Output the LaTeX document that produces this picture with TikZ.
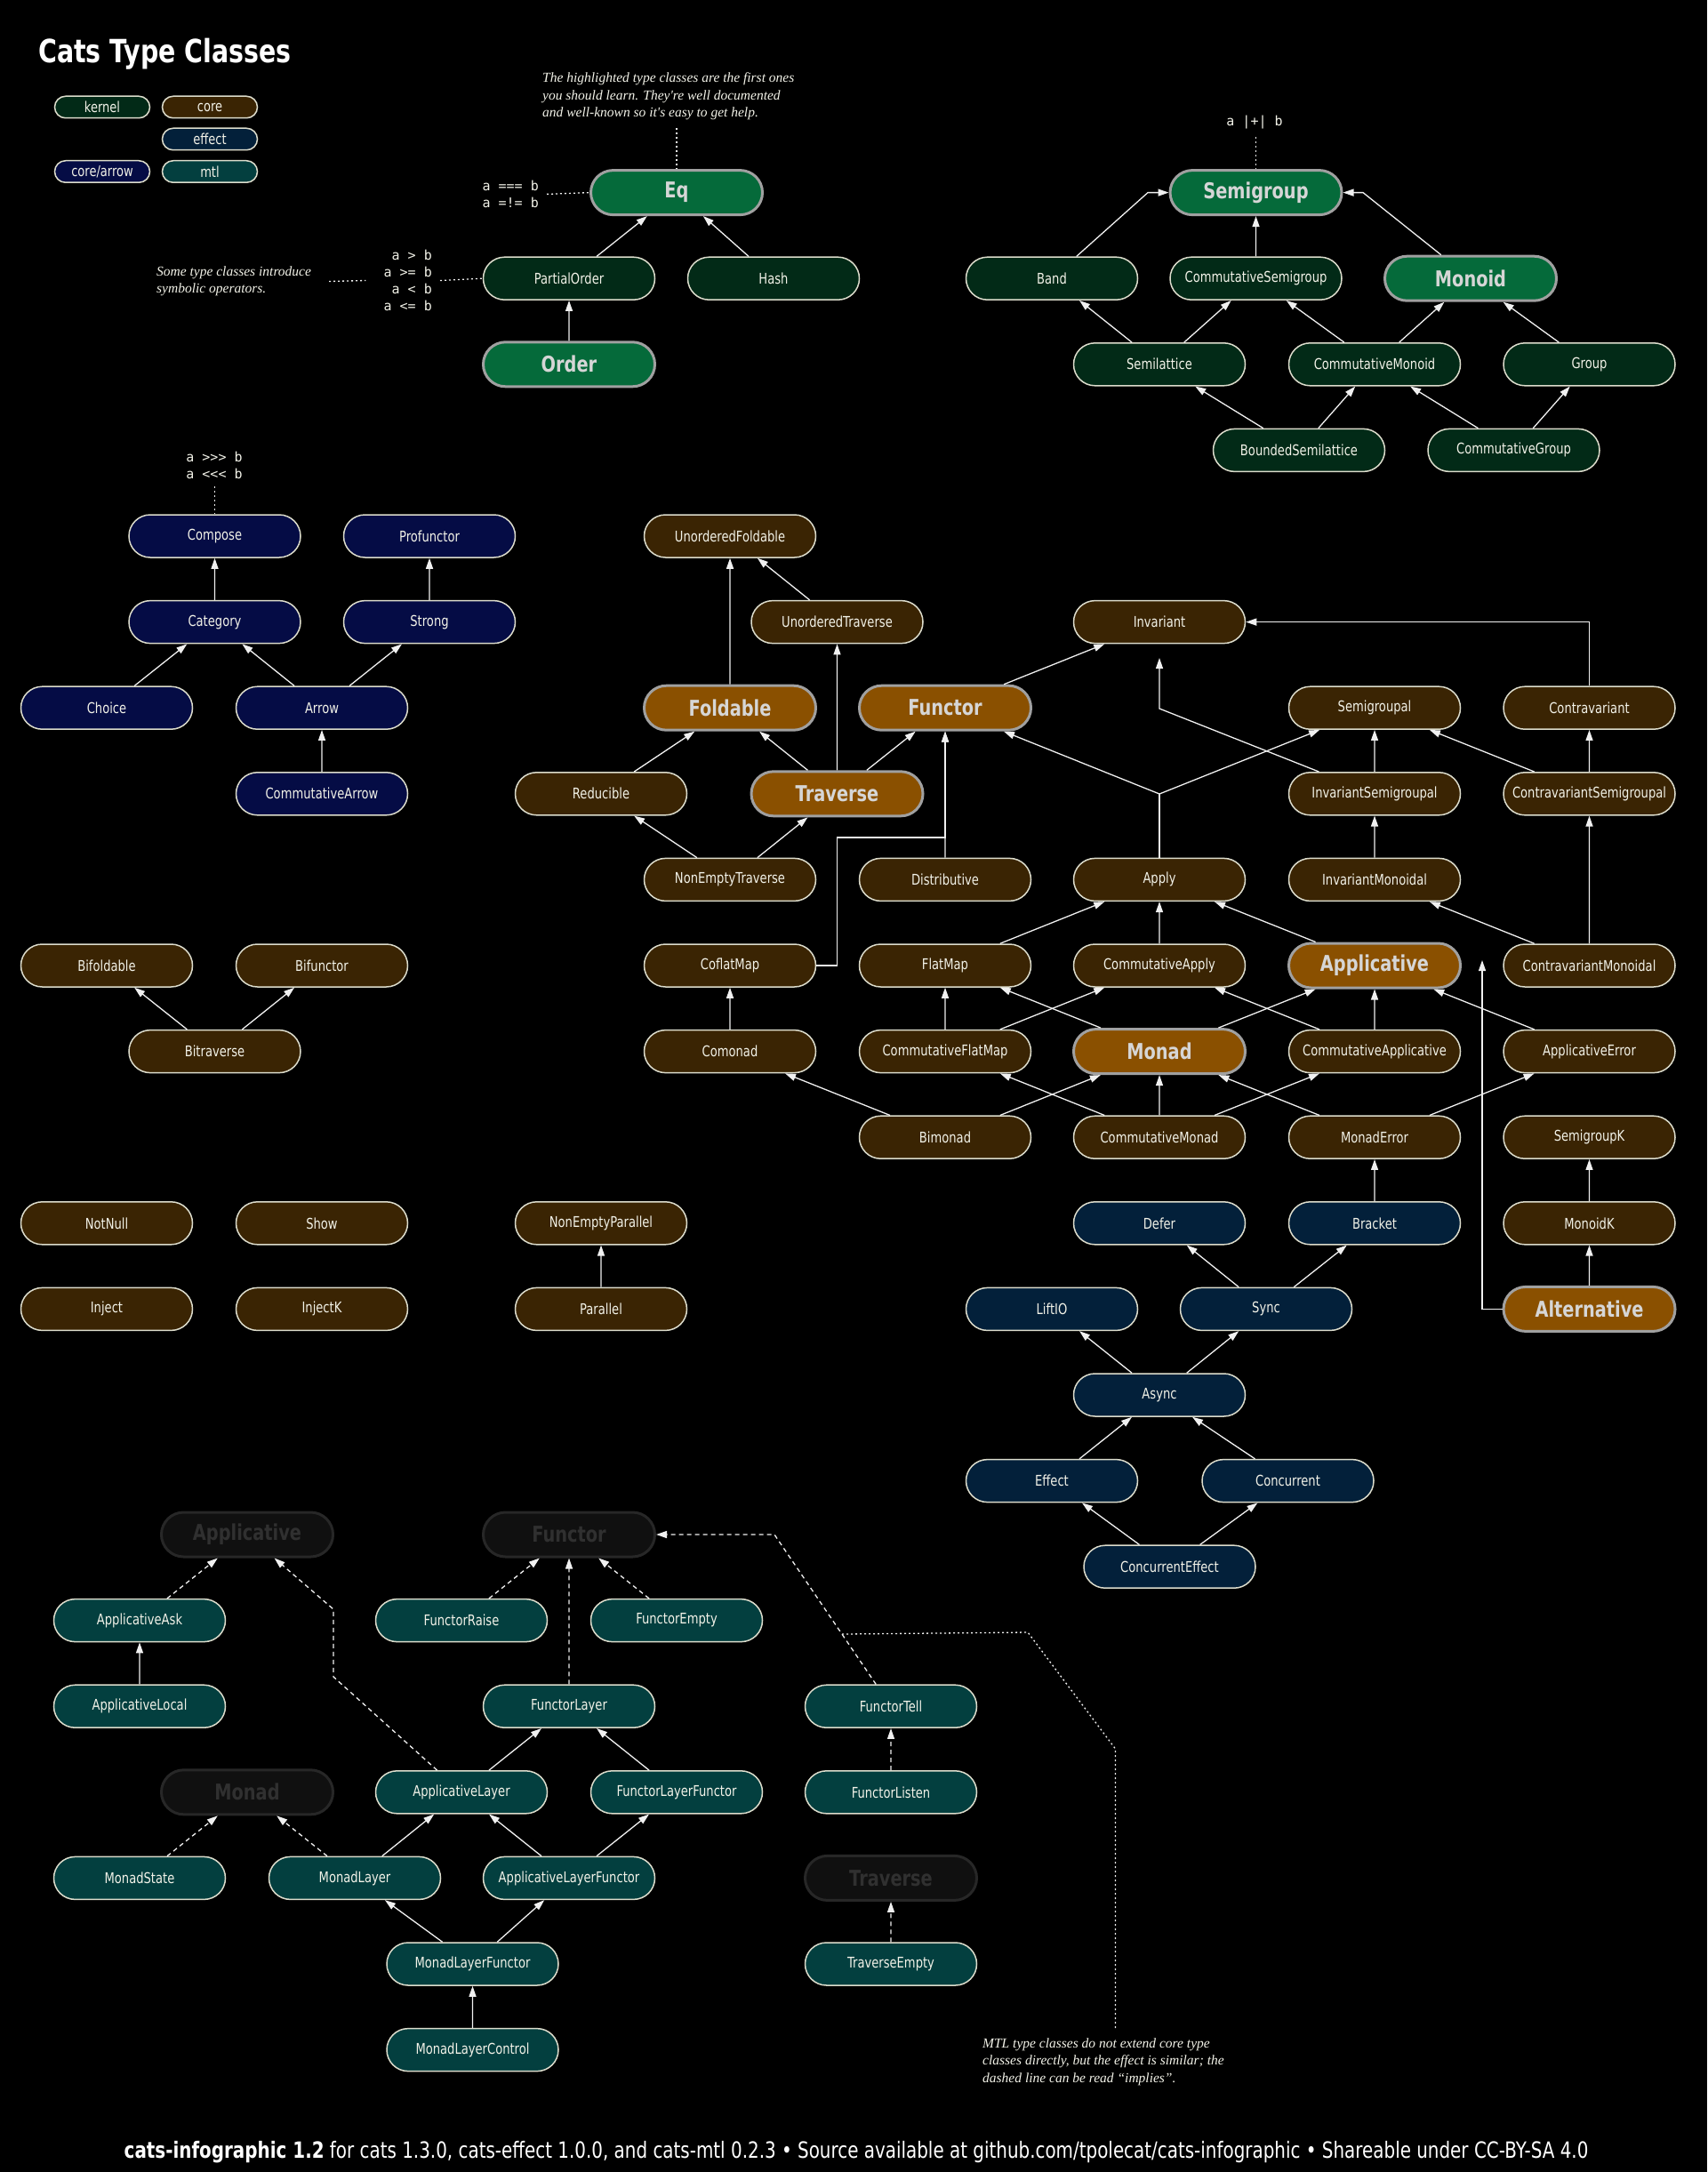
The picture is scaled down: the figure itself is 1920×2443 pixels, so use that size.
\documentclass[tikz,border=0pt]{standalone}
\usepackage{fontspec}
\setmainfont[FakeStretch=0.79]{DejaVu Sans}
\newfontfamily\notefont{Liberation Serif}
\newfontfamily\opfont{DejaVu Sans Mono}
\usetikzlibrary{shapes.misc,arrows.meta}
\definecolor{kernelfill}{HTML}{022A17}
\definecolor{kernelhi}{HTML}{056A3A}
\definecolor{corefill}{HTML}{3A2403}
\definecolor{corehi}{HTML}{8A5000}
\definecolor{effectfill}{HTML}{03203A}
\definecolor{arrowfill}{HTML}{050C45}
\definecolor{mtlfill}{HTML}{033F3F}
\definecolor{ghostfill}{HTML}{101010}
\definecolor{ghostline}{HTML}{272727}
\definecolor{ghosttext}{HTML}{303030}
\definecolor{nodeline}{HTML}{DCDCCC}
\definecolor{nodetext}{HTML}{F2F2E8}
\definecolor{hiline}{HTML}{A0A0A0}
\definecolor{hitext}{HTML}{D6D6D6}
\definecolor{edgecol}{HTML}{F0F0F0}
\begin{document}
\begin{tikzpicture}[x=1pt,y=-1pt,
  tc/.style={rounded rectangle, minimum width=193pt, minimum height=48pt, inner sep=0pt,
    line width=1.5pt, draw=nodeline, text=nodetext, font=\fontsize{16.6}{20}\selectfont},
  kn/.style={tc, fill=kernelfill},
  co/.style={tc, fill=corefill},
  ef/.style={tc, fill=effectfill},
  ar/.style={tc, fill=arrowfill},
  mt/.style={tc, fill=mtlfill},
  hik/.style={tc, fill=kernelhi, draw=hiline, line width=3pt, text=hitext, minimum height=50pt,
    font=\bfseries\fontsize{24.5}{28}\selectfont},
  hic/.style={hik, fill=corehi},
  ghost/.style={hik, fill=ghostfill, draw=ghostline, text=ghosttext},
  lg/.style={rounded rectangle, minimum width=107pt, minimum height=24.5pt, inner sep=0pt,
    line width=1.5pt, draw=nodeline, text=nodetext, font=\fontsize{16.5}{18}\selectfont},
  edge/.style={draw=edgecol, line width=1.3pt, -{Triangle[length=12pt,width=8pt]}},
  impl/.style={edge, dash pattern=on 5pt off 4pt},
  dots/.style={draw=edgecol, line width=1.3pt, dash pattern=on 2pt off 3pt},
  note/.style={inner sep=0pt, text=nodetext, align=left, font=\notefont\itshape\fontsize{15.5}{19.5}\selectfont},
  ops/.style={inner sep=0pt, text=nodetext, font=\opfont\fontsize{15}{19}\selectfont}
]
\fill[black] (0,0) rectangle (1920,2443);
\useasboundingbox (0,0) rectangle (1920,2443);

% ---------- title and legend ----------
\node[anchor=west, inner sep=0pt, text=white, font=\bfseries\fontsize{36}{40}\selectfont] (title) at (43,61) {Cats Type Classes};
\node[lg, fill=kernelfill] (lkernel) at (115,120.5) {kernel};
\node[lg, fill=corefill] (lcore) at (236,120.5) {core};
\node[lg, fill=effectfill] (leffect) at (236,156.5) {effect};
\node[lg, fill=arrowfill] (larrow) at (115,193) {core/arrow};
\node[lg, fill=mtlfill] (lmtl) at (236,193) {mtl};

% ---------- kernel ----------
\node[hik] (Eq) at (761,216.6) {Eq};
\node[kn] (PartialOrder) at (640,313.2) {PartialOrder};
\node[kn] (Hash) at (870,313.2) {Hash};
\node[hik] (Order) at (640,409.8) {Order};
\node[hik] (Semigroup) at (1412.5,216.6) {Semigroup};
\node[kn] (Band) at (1183,313.2) {Band};
\node[kn] (CommutativeSemigroup) at (1412.5,313.2) {CommutativeSemigroup};
\node[hik] (Monoid) at (1654,313.2) {Monoid};
\node[kn] (Semilattice) at (1304,409.8) {Semilattice};
\node[kn] (CommutativeMonoid) at (1546,409.8) {CommutativeMonoid};
\node[kn] (Group) at (1787.5,409.8) {Group};
\node[kn] (BoundedSemilattice) at (1461,506.4) {BoundedSemilattice};
\node[kn] (CommutativeGroup) at (1702.5,506.4) {CommutativeGroup};

% ---------- core/arrow ----------
\node[ar] (Compose) at (241.5,603) {Compose};
\node[ar] (Profunctor) at (483,603) {Profunctor};
\node[ar] (Category) at (241.5,699.6) {Category};
\node[ar] (Strong) at (483,699.6) {Strong};
\node[ar] (Choice) at (120,796.2) {Choice};
\node[ar] (Arrow) at (362,796.2) {Arrow};
\node[ar] (CommutativeArrow) at (362,892.8) {CommutativeArrow};

% ---------- core ----------
\node[co] (UnorderedFoldable) at (821,603) {UnorderedFoldable};
\node[co] (UnorderedTraverse) at (941.5,699.6) {UnorderedTraverse};
\node[co] (Invariant) at (1304,699.6) {Invariant};
\node[hic] (Foldable) at (821,796.2) {Foldable};
\node[hic] (Functor) at (1063,796.2) {Functor};
\node[co] (Semigroupal) at (1546,796.2) {Semigroupal};
\node[co] (Contravariant) at (1787.5,796.2) {Contravariant};
\node[co] (Reducible) at (676,892.8) {Reducible};
\node[hic] (Traverse) at (941.5,892.8) {Traverse};
\node[co] (InvariantSemigroupal) at (1546,892.8) {InvariantSemigroupal};
\node[co] (ContravariantSemigroupal) at (1787.5,892.8) {ContravariantSemigroupal};
\node[co] (NonEmptyTraverse) at (821,989.4) {NonEmptyTraverse};
\node[co] (Distributive) at (1063,989.4) {Distributive};
\node[co] (Apply) at (1304,989.4) {Apply};
\node[co] (InvariantMonoidal) at (1546,989.4) {InvariantMonoidal};
\node[co] (Bifoldable) at (120,1086) {Bifoldable};
\node[co] (Bifunctor) at (362,1086) {Bifunctor};
\node[co] (CoflatMap) at (821,1086) {CoflatMap};
\node[co] (FlatMap) at (1063,1086) {FlatMap};
\node[co] (CommutativeApply) at (1304,1086) {CommutativeApply};
\node[hic] (Applicative) at (1546,1086) {Applicative};
\node[co] (ContravariantMonoidal) at (1787.5,1086) {ContravariantMonoidal};
\node[co] (Bitraverse) at (241.5,1182.6) {Bitraverse};
\node[co] (Comonad) at (821,1182.6) {Comonad};
\node[co] (CommutativeFlatMap) at (1063,1182.6) {CommutativeFlatMap};
\node[hic] (Monad) at (1304,1182.6) {Monad};
\node[co] (CommutativeApplicative) at (1546,1182.6) {CommutativeApplicative};
\node[co] (ApplicativeError) at (1787.5,1182.6) {ApplicativeError};
\node[co] (Bimonad) at (1063,1279.2) {Bimonad};
\node[co] (CommutativeMonad) at (1304,1279.2) {CommutativeMonad};
\node[co] (MonadError) at (1546,1279.2) {MonadError};
\node[co] (SemigroupK) at (1787.5,1279.2) {SemigroupK};
\node[co] (NotNull) at (120,1375.8) {NotNull};
\node[co] (Show) at (362,1375.8) {Show};
\node[co] (NonEmptyParallel) at (676,1375.8) {NonEmptyParallel};
\node[co] (MonoidK) at (1787.5,1375.8) {MonoidK};
\node[co] (Inject) at (120,1472.4) {Inject};
\node[co] (InjectK) at (362,1472.4) {InjectK};
\node[co] (Parallel) at (676,1472.4) {Parallel};
\node[hic] (Alternative) at (1787.5,1472.4) {Alternative};

% ---------- effect ----------
\node[ef] (Defer) at (1304,1375.8) {Defer};
\node[ef] (Bracket) at (1546,1375.8) {Bracket};
\node[ef] (LiftIO) at (1183,1472.4) {LiftIO};
\node[ef] (Sync) at (1424,1472.4) {Sync};
\node[ef] (Async) at (1304,1569) {Async};
\node[ef] (Effect) at (1183,1665.6) {Effect};
\node[ef] (Concurrent) at (1448.5,1665.6) {Concurrent};
\node[ef] (ConcurrentEffect) at (1315.5,1762.2) {ConcurrentEffect};

% ---------- mtl ----------
\node[ghost] (GApplicative) at (278,1726) {Applicative};
\node[ghost] (GFunctor) at (640,1726) {Functor};
\node[mt] (ApplicativeAsk) at (157,1822.6) {ApplicativeAsk};
\node[mt] (FunctorRaise) at (519,1822.6) {FunctorRaise};
\node[mt] (FunctorEmpty) at (761,1822.6) {FunctorEmpty};
\node[mt] (ApplicativeLocal) at (157,1919.2) {ApplicativeLocal};
\node[mt] (FunctorLayer) at (640,1919.2) {FunctorLayer};
\node[mt] (FunctorTell) at (1002,1919.2) {FunctorTell};
\node[ghost] (GMonad) at (278,2015.8) {Monad};
\node[mt] (ApplicativeLayer) at (519,2015.8) {ApplicativeLayer};
\node[mt] (FunctorLayerFunctor) at (761,2015.8) {FunctorLayerFunctor};
\node[mt] (FunctorListen) at (1002,2015.8) {FunctorListen};
\node[mt] (MonadState) at (157,2112.4) {MonadState};
\node[mt] (MonadLayer) at (399,2112.4) {MonadLayer};
\node[mt] (ApplicativeLayerFunctor) at (640,2112.4) {ApplicativeLayerFunctor};
\node[ghost] (GTraverse) at (1002,2112.4) {Traverse};
\node[mt] (MonadLayerFunctor) at (531.5,2209) {MonadLayerFunctor};
\node[mt] (TraverseEmpty) at (1002,2209) {TraverseEmpty};
\node[mt] (MonadLayerControl) at (531.5,2305.6) {MonadLayerControl};

% ---------- simple edges ----------
\foreach \a/\b in {PartialOrder/Eq, Hash/Eq, Order/PartialOrder,
  CommutativeSemigroup/Semigroup, Semilattice/Band, Semilattice/CommutativeSemigroup,
  CommutativeMonoid/CommutativeSemigroup, CommutativeMonoid/Monoid, Group/Monoid,
  BoundedSemilattice/Semilattice, BoundedSemilattice/CommutativeMonoid,
  CommutativeGroup/CommutativeMonoid, CommutativeGroup/Group,
  Category/Compose, Strong/Profunctor, Choice/Category, Arrow/Category, Arrow/Strong,
  CommutativeArrow/Arrow,
  Foldable/UnorderedFoldable, UnorderedTraverse/UnorderedFoldable, Traverse/UnorderedTraverse,
  Traverse/Foldable, Traverse/Functor, Reducible/Foldable, NonEmptyTraverse/Reducible,
  NonEmptyTraverse/Traverse, Functor/Invariant, Distributive/Functor,
  InvariantSemigroupal/Semigroupal, ContravariantSemigroupal/Semigroupal,
  ContravariantSemigroupal/Contravariant, InvariantMonoidal/InvariantSemigroupal,
  ContravariantMonoidal/InvariantMonoidal, ContravariantMonoidal/ContravariantSemigroupal,
  FlatMap/Apply, CommutativeApply/Apply, Applicative/Apply, Comonad/CoflatMap,
  CommutativeFlatMap/FlatMap, CommutativeFlatMap/CommutativeApply, Monad/FlatMap,
  Monad/Applicative, CommutativeApplicative/CommutativeApply, CommutativeApplicative/Applicative,
  ApplicativeError/Applicative, Bimonad/Comonad, Bimonad/Monad,
  CommutativeMonad/CommutativeFlatMap, CommutativeMonad/Monad, CommutativeMonad/CommutativeApplicative,
  MonadError/Monad, MonadError/ApplicativeError, MonoidK/SemigroupK, Alternative/MonoidK,
  Bracket/MonadError, Sync/Defer, Sync/Bracket, Async/LiftIO, Async/Sync, Effect/Async,
  Concurrent/Async, ConcurrentEffect/Effect, ConcurrentEffect/Concurrent,
  Parallel/NonEmptyParallel, Bitraverse/Bifoldable, Bitraverse/Bifunctor,
  ApplicativeLocal/ApplicativeAsk, ApplicativeLayer/FunctorLayer, FunctorLayerFunctor/FunctorLayer,
  MonadLayer/ApplicativeLayer, ApplicativeLayerFunctor/ApplicativeLayer,
  ApplicativeLayerFunctor/FunctorLayerFunctor, MonadLayerFunctor/MonadLayer,
  MonadLayerFunctor/ApplicativeLayerFunctor, MonadLayerControl/MonadLayerFunctor}
  \draw[edge] (\a) -- (\b);

\foreach \a/\b in {ApplicativeAsk/GApplicative, FunctorRaise/GFunctor, FunctorEmpty/GFunctor,
  FunctorLayer/GFunctor, MonadState/GMonad, MonadLayer/GMonad, FunctorListen/FunctorTell,
  TraverseEmpty/GTraverse}
  \draw[impl] (\a) -- (\b);

% ---------- routed edges ----------
\draw[edge] (Band) -- (1291,216.6) -- (Semigroup.west);
\draw[edge] (Monoid) -- (1533,216.6) -- (Semigroup.east);
\draw[edge] (CoflatMap.east) -- (941.5,1086) -- (941.5,942) -- (1063,942) -- (Functor.south);
\coordinate (applyj) at (1304,893);
\draw[draw=edgecol, line width=1.3pt] (Apply.north) -- (applyj);
\draw[edge] (applyj) -- (Functor);
\draw[edge] (applyj) -- (Semigroupal);
\coordinate (isgA) at (1304,797);
\coordinate (isgB) at (1304,740);
\draw[edge] (InvariantSemigroupal) -- (isgA) -- (isgB);
\draw[edge] (Contravariant.north) |- (Invariant.east);
\coordinate (altend) at (1667,1080);
\draw[edge] (Alternative.west) -| (altend);
\draw[impl] (ApplicativeLayer) -- (375,1886) -- (375,1810) -- (GApplicative);
\draw[impl] (FunctorTell) -- (871,1726) -- (GFunctor.east);

% ---------- annotations ----------
\node[note, anchor=west] (hlnote) at (610,108.5) {The highlighted type classes are the first ones\\you should learn. They're well documented\\and well-known so it's easy to get help.};
\coordinate (hlend) at (761,144);
\draw[dots] (hlend) -- (Eq.north);

\node[ops, anchor=east, align=right] (ops1) at (606,218.4) {a === b\\a =!= b};
\draw[dots] ([xshift=9pt]ops1.east) -- (Eq.west);

\node[ops, anchor=east, align=right] (ops2) at (486,315.5) {a > b\\a >= b\\a < b\\a <= b};
\draw[dots] ([xshift=9pt]ops2.east) -- (PartialOrder.west);

\node[note, anchor=west] (symnote) at (176,316.5) {Some type classes introduce\\symbolic operators.};
\draw[dots] ([xshift=20pt]symnote.east) -- ([xshift=-20pt]ops2.west);

\node[ops] (sgop) at (1411,137.5) {a |+| b};
\coordinate (sgend) at (1412.5,154);
\draw[dots] (sgend) -- (Semigroup.north);

\node[ops, align=left] (cmpop) at (241,523) {a >{}>{}> b\\a <{}<{}< b};
\coordinate (cmpend) at (241.5,547);
\draw[dots] (cmpend) -- (Compose.north);

\coordinate (mA) at (947,1838);
\coordinate (mB) at (1156,1836);
\coordinate (mC) at (1254.5,1967);
\coordinate (mD) at (1254.5,2283);
\draw[dots] (mA) -- (mB) -- (mC) -- (mD);
\node[note, anchor=west] (mtlnote) at (1105,2319) {MTL type classes do not extend core type\\classes directly, but the effect is similar; the\\dashed line can be read “implies”.};

% ---------- footer ----------
\node[inner sep=0pt, text=white, font=\fontsize{25.2}{28}\selectfont] (footer) at (963,2421)
  {\textbf{cats-infographic 1.2} for cats 1.3.0, cats-effect 1.0.0, and cats-mtl 0.2.3 • Source available at github.com/tpolecat/cats-infographic • Shareable under CC-BY-SA 4.0};
\end{tikzpicture}
\end{document}
